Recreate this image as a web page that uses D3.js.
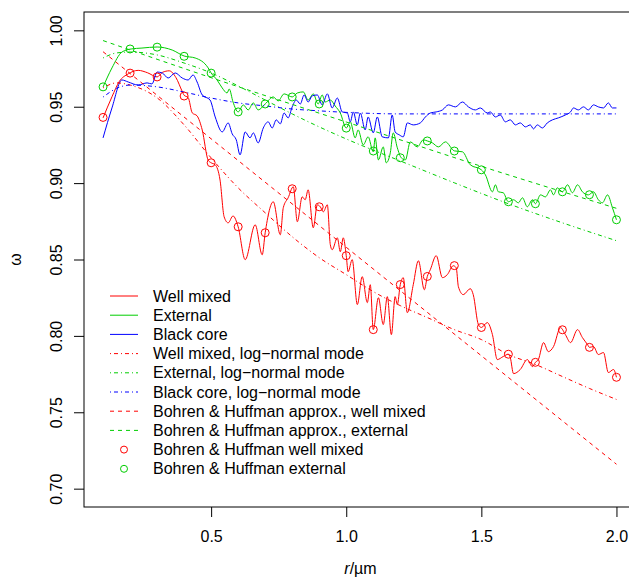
<!DOCTYPE html>
<html>
<head>
<meta charset="utf-8">
<script src="https://cdn.jsdelivr.net/npm/d3@7"></script>
<style>
  body { margin: 0; background: #fff; }
  text { font-family: "Liberation Sans", Arial, Helvetica, sans-serif; }
</style>
</head>
<body>
<svg width="629" height="578"></svg>
<script>

// solid curves, [r, omega]
const wellMixed = [[0.100,0.9427],[0.133,0.9565],[0.160,0.9665],[0.193,0.9715],[0.230,0.9738],[0.265,0.9722],[0.300,0.9695],[0.320,0.9725],[0.345,0.9735],[0.370,0.9690],[0.393,0.9600],[0.400,0.9575],[0.415,0.9560],[0.430,0.9460],[0.448,0.9440],[0.467,0.9348],[0.489,0.9150],[0.500,0.9133],[0.515,0.9120],[0.533,0.9020],[0.548,0.8780],[0.563,0.8740],[0.581,0.8785],[0.600,0.8714],[0.626,0.8499],[0.663,0.8727],[0.689,0.8531],[0.700,0.8675],[0.730,0.8878],[0.756,0.8662],[0.767,0.8839],[0.785,0.8904],[0.804,0.8976],[0.819,0.8747],[0.837,0.8910],[0.848,0.8891],[0.859,0.8956],[0.878,0.8708],[0.893,0.8858],[0.904,0.8845],[0.915,0.8812],[0.930,0.8858],[0.941,0.8597],[0.948,0.8564],[0.967,0.8642],[0.978,0.8551],[0.989,0.8642],[1.000,0.8525],[1.007,0.8420],[1.022,0.8499],[1.041,0.8205],[1.059,0.8388],[1.078,0.8218],[1.089,0.8335],[1.100,0.8041],[1.119,0.8250],[1.137,0.8074],[1.152,0.8257],[1.167,0.8008],[1.181,0.8257],[1.189,0.8205],[1.200,0.8336],[1.211,0.8381],[1.226,0.8152],[1.248,0.8335],[1.267,0.8492],[1.289,0.8302],[1.300,0.8389],[1.311,0.8433],[1.333,0.8525],[1.356,0.8381],[1.374,0.8401],[1.396,0.8459],[1.407,0.8446],[1.415,0.8322],[1.433,0.8270],[1.459,0.8309],[1.470,0.8270],[1.489,0.8074],[1.500,0.8055],[1.522,0.8087],[1.541,0.8008],[1.559,0.7845],[1.581,0.7865],[1.600,0.7880],[1.607,0.7858],[1.619,0.7753],[1.644,0.7780],[1.670,0.7845],[1.689,0.7799],[1.700,0.7827],[1.711,0.7845],[1.730,0.7956],[1.748,0.7897],[1.767,0.7930],[1.793,0.8054],[1.811,0.8008],[1.830,0.7956],[1.856,0.8041],[1.874,0.7989],[1.893,0.7943],[1.900,0.7925],[1.915,0.7930],[1.933,0.7878],[1.952,0.7891],[1.970,0.7760],[1.989,0.7780],[2.000,0.7729]];

const external = [[0.100,0.9629],[0.133,0.9754],[0.170,0.9858],[0.204,0.9878],[0.244,0.9884],[0.300,0.9891],[0.356,0.9871],[0.400,0.9832],[0.441,0.9819],[0.489,0.9754],[0.500,0.9721],[0.522,0.9675],[0.541,0.9623],[0.559,0.9590],[0.567,0.9616],[0.581,0.9531],[0.600,0.9466],[0.619,0.9512],[0.637,0.9479],[0.656,0.9525],[0.674,0.9479],[0.700,0.9518],[0.730,0.9564],[0.748,0.9538],[0.770,0.9584],[0.800,0.9564],[0.819,0.9590],[0.841,0.9597],[0.859,0.9544],[0.878,0.9584],[0.896,0.9518],[0.911,0.9577],[0.922,0.9531],[0.941,0.9544],[0.959,0.9505],[0.978,0.9459],[1.000,0.9361],[1.015,0.9401],[1.033,0.9296],[1.044,0.9348],[1.063,0.9250],[1.081,0.9303],[1.100,0.9205],[1.107,0.9296],[1.119,0.9152],[1.137,0.9237],[1.148,0.9133],[1.163,0.9198],[1.174,0.9329],[1.189,0.9231],[1.204,0.9165],[1.219,0.9152],[1.237,0.9270],[1.263,0.9237],[1.285,0.9283],[1.300,0.9276],[1.319,0.9263],[1.341,0.9237],[1.367,0.9270],[1.400,0.9211],[1.430,0.9205],[1.459,0.9120],[1.500,0.9087],[1.515,0.9054],[1.541,0.8943],[1.552,0.8989],[1.563,0.8943],[1.581,0.8937],[1.600,0.8878],[1.619,0.8891],[1.637,0.8871],[1.652,0.8904],[1.670,0.8845],[1.689,0.8891],[1.700,0.8865],[1.719,0.8923],[1.737,0.8910],[1.756,0.8956],[1.767,0.8923],[1.781,0.8969],[1.800,0.8943],[1.819,0.8989],[1.837,0.8937],[1.856,0.8989],[1.874,0.8943],[1.896,0.8923],[1.915,0.8943],[1.933,0.8891],[1.948,0.8871],[1.967,0.8923],[1.985,0.8839],[2.000,0.8760]];

const blackCore = [[0.100,0.9296],[0.133,0.9492],[0.170,0.9675],[0.193,0.9662],[0.230,0.9642],[0.263,0.9656],[0.281,0.9649],[0.300,0.9727],[0.319,0.9721],[0.341,0.9688],[0.367,0.9721],[0.393,0.9688],[0.415,0.9675],[0.433,0.9708],[0.448,0.9662],[0.467,0.9577],[0.496,0.9544],[0.515,0.9433],[0.541,0.9335],[0.563,0.9394],[0.578,0.9322],[0.593,0.9283],[0.607,0.9185],[0.626,0.9335],[0.644,0.9296],[0.656,0.9329],[0.674,0.9263],[0.693,0.9361],[0.711,0.9401],[0.726,0.9361],[0.741,0.9414],[0.756,0.9388],[0.770,0.9459],[0.785,0.9427],[0.800,0.9499],[0.815,0.9544],[0.830,0.9518],[0.844,0.9577],[0.859,0.9531],[0.874,0.9571],[0.893,0.9577],[0.911,0.9512],[0.930,0.9584],[0.948,0.9492],[0.967,0.9557],[0.985,0.9466],[1.004,0.9459],[1.015,0.9401],[1.026,0.9466],[1.041,0.9381],[1.052,0.9459],[1.070,0.9348],[1.081,0.9433],[1.100,0.9329],[1.115,0.9433],[1.133,0.9303],[1.156,0.9296],[1.170,0.9446],[1.181,0.9335],[1.196,0.9316],[1.211,0.9303],[1.226,0.9394],[1.248,0.9381],[1.274,0.9394],[1.293,0.9433],[1.311,0.9459],[1.333,0.9466],[1.356,0.9479],[1.378,0.9512],[1.404,0.9499],[1.430,0.9531],[1.452,0.9499],[1.478,0.9479],[1.496,0.9492],[1.522,0.9459],[1.533,0.9466],[1.552,0.9433],[1.570,0.9446],[1.589,0.9401],[1.607,0.9414],[1.626,0.9381],[1.644,0.9394],[1.663,0.9368],[1.681,0.9381],[1.693,0.9355],[1.707,0.9381],[1.726,0.9361],[1.744,0.9394],[1.763,0.9414],[1.785,0.9427],[1.811,0.9446],[1.830,0.9466],[1.841,0.9492],[1.859,0.9479],[1.878,0.9499],[1.896,0.9479],[1.915,0.9512],[1.933,0.9499],[1.952,0.9492],[1.970,0.9525],[1.985,0.9492],[2.000,0.9492]];

// log-normal mode curves (dot-dash)
const wellMixedLogNormal = [[0.10,0.9623],[0.15,0.9656],[0.20,0.9642],[0.30,0.9558],[0.40,0.9381],[0.50,0.9165],[0.60,0.8969],[0.70,0.8806],[0.80,0.8649],[0.90,0.8512],[1.00,0.8401],[1.10,0.8290],[1.20,0.8198],[1.30,0.8120],[1.40,0.8041],[1.50,0.7976],[1.60,0.7878],[1.70,0.7813],[1.80,0.7734],[1.90,0.7656],[2.00,0.7584]];
const externalLogNormal = [[0.10,0.9819],[0.15,0.9852],[0.20,0.9858],[0.30,0.9839],[0.40,0.9786],[0.50,0.9721],[0.60,0.9636],[0.70,0.9544],[0.80,0.9453],[0.90,0.9368],[1.00,0.9289],[1.20,0.9145],[1.40,0.9002],[1.60,0.8865],[1.80,0.8740],[2.00,0.8623]];
const blackCoreLogNormal = [[0.10,0.9563],[0.15,0.9620],[0.20,0.9642],[0.30,0.9630],[0.40,0.9596],[0.50,0.9557],[0.60,0.9525],[0.70,0.9505],[0.80,0.9485],[0.90,0.9473],[1.00,0.9463],[1.20,0.9453],[1.50,0.9453],[2.00,0.9453]];

// Bohren & Huffman approximations (dashed)
const bhApproxWellMixed = [[0.1,0.986],[0.5,0.929],[1.0,0.858],[1.5,0.787],[2.0,0.716]];
const bhApproxExternal = [[0.1,0.9933],[0.5,0.9690],[1.0,0.9400],[1.5,0.9110],[2.0,0.8835]];

// Bohren & Huffman exact points (circles)
const bhR = [0.1,0.2,0.3,0.4,0.5,0.6,0.7,0.8,0.9,1.0,1.1,1.2,1.3,1.4,1.5,1.6,1.7,1.8,1.9,2.0];
const bhWellMixed = [0.943,0.972,0.9695,0.957,0.9133,0.8714,0.8675,0.8963,0.8845,0.8525,0.8041,0.8336,0.8389,0.846,0.8055,0.788,0.7827,0.804,0.7925,0.7729];
const bhExternal = [0.963,0.9878,0.989,0.983,0.972,0.9466,0.9518,0.9564,0.9518,0.936,0.921,0.9166,0.9276,0.921,0.9087,0.8878,0.8865,0.8943,0.8924,0.876];

const xTicks = [0.5, 1.0, 1.5, 2.0];
const yTicks = [0.70, 0.75, 0.80, 0.85, 0.90, 0.95, 1.00];

const RED = '#FF0000', GREEN = '#00CD00', BLUE = '#0000FF';
const DASHED = '4,4';
const DOTDASH = '1,3,4,3';

const L = 84, R = 637, T = 12, B = 507;

let svg = d3.select('svg');

let x = d3.scaleLinear().domain([0.0295, 2.076]).range([L, R]);
let y = d3.scaleLinear().domain([0.688, 1.012]).range([B, T]);

svg.append('clipPath').attr('id', 'plotclip')
  .append('rect').attr('x', L).attr('y', T).attr('width', R - L).attr('height', B - T);

let plot = svg.append('g').attr('clip-path', 'url(#plotclip)');

let line = d3.line().x(d => x(d[0])).y(d => y(d[1])).curve(d3.curveMonotoneX);
let straight = d3.line().x(d => x(d[0])).y(d => y(d[1])).curve(d3.curveMonotoneX);

let curves = [
  { data: wellMixed, color: RED, dash: null },
  { data: external, color: GREEN, dash: null },
  { data: blackCore, color: BLUE, dash: null },
  { data: wellMixedLogNormal, color: RED, dash: DOTDASH },
  { data: externalLogNormal, color: GREEN, dash: DOTDASH },
  { data: blackCoreLogNormal, color: BLUE, dash: DOTDASH },
  { data: bhApproxWellMixed, color: RED, dash: DASHED },
  { data: bhApproxExternal, color: GREEN, dash: DASHED }
];

curves.forEach(c => {
  plot.append('path')
    .attr('d', (c.dash ? straight : line)(c.data))
    .attr('fill', 'none')
    .attr('stroke', c.color)
    .attr('stroke-width', 1)
    .attr('stroke-dasharray', c.dash);
});

[[bhWellMixed, RED], [bhExternal, GREEN]].forEach(([vals, color]) => {
  plot.selectAll(null).data(bhR).enter().append('circle')
    .attr('cx', d => x(d))
    .attr('cy', (d, i) => y(vals[i]))
    .attr('r', 4)
    .attr('fill', 'none')
    .attr('stroke', color)
    .attr('stroke-width', 1);
});

// box
svg.append('rect')
  .attr('x', L).attr('y', T).attr('width', R - L).attr('height', B - T)
  .attr('fill', 'none').attr('stroke', '#000').attr('stroke-width', 1);

// axes
let xAxis = svg.append('g').attr('transform', 'translate(0,' + B + ')')
  .call(d3.axisBottom(x).tickValues(xTicks).tickFormat(d3.format('.1f')).tickSize(10));
xAxis.select('.domain').remove();
xAxis.selectAll('text').attr('y', 35).attr('dy', null)
  .style('font-size', '16px').style('font-family', '"Liberation Sans", Arial, sans-serif');

let yAxis = svg.append('g').attr('transform', 'translate(' + L + ',0)')
  .call(d3.axisLeft(y).tickValues(yTicks).tickFormat(d3.format('.2f')).tickSize(10));
yAxis.select('.domain').remove();
yAxis.selectAll('text')
  .attr('x', null).attr('dy', null)
  .attr('transform', 'translate(-22,0) rotate(-90)')
  .attr('text-anchor', 'middle')
  .style('font-size', '16px').style('font-family', '"Liberation Sans", Arial, sans-serif');

// axis titles
let xt = svg.append('text')
  .attr('x', (L + R) / 2).attr('y', 574)
  .attr('text-anchor', 'middle').style('font-size', '16px');
xt.append('tspan').style('font-style', 'italic').text('r');
xt.append('tspan').text('/\u00b5m');

svg.append('text')
  .attr('transform', 'translate(21,' + ((T + B) / 2) + ') rotate(-90)')
  .attr('text-anchor', 'middle').style('font-size', '16px')
  .text('\u03c9');

// legend
const legendLabels = ['Well mixed', 'External', 'Black core',
  'Well mixed, log\u2212normal mode', 'External, log\u2212normal mode', 'Black core, log\u2212normal mode',
  'Bohren & Huffman approx., well mixed', 'Bohren & Huffman approx., external',
  'Bohren & Huffman well mixed', 'Bohren & Huffman external'];
const legendColors = [RED, GREEN, BLUE, RED, GREEN, BLUE, RED, GREEN, RED, GREEN];
const legendDash = ['line', 'line', 'line', DOTDASH, DOTDASH, DOTDASH, DASHED, DASHED, 'pt', 'pt'];

let lg = svg.append('g');
legendLabels.forEach((lab, i) => {
  let ly = 296 + i * 19.2;
  if (legendDash[i] === 'pt') {
    lg.append('circle').attr('cx', 124).attr('cy', ly).attr('r', 3.5)
      .attr('fill', 'none').attr('stroke', legendColors[i]).attr('stroke-width', 1);
  } else {
    lg.append('line').attr('x1', 110).attr('x2', 138).attr('y1', ly).attr('y2', ly)
      .attr('stroke', legendColors[i]).attr('stroke-width', 1)
      .attr('stroke-dasharray', legendDash[i] === 'line' ? null : legendDash[i]);
  }
  lg.append('text').attr('x', 153).attr('y', ly).attr('dy', '0.35em')
    .style('font-size', '16px').text(lab);
});

</script>
</body>
</html>
